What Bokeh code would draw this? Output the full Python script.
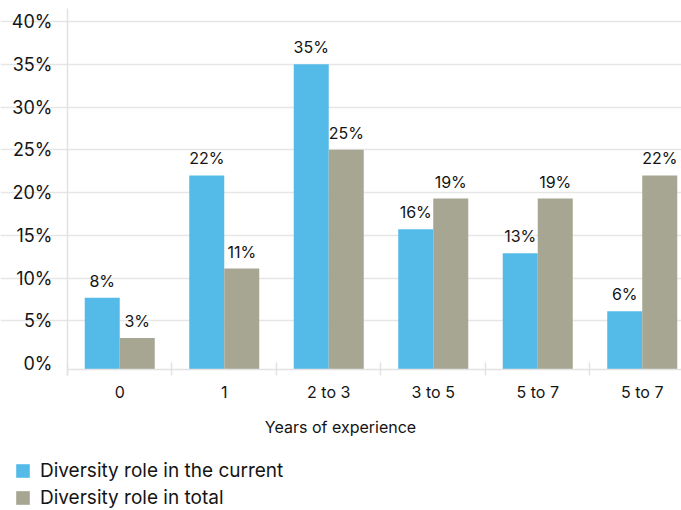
from bokeh.plotting import figure
from bokeh.models import (ColumnDataSource, FixedTicker, Range1d, Label,
                          Legend, LegendItem, CustomJSTickFormatter)
from bokeh.core.properties import value
from bokeh.embed import file_html
from bokeh.resources import INLINE

# Survey data: share of respondents by years of experience
categories = ["0", "1", "2 to 3", "3 to 5", "5 to 7", "5 to 7"]
current_role = [7.7, 22.0, 35.0, 15.7, 12.9, 6.1]
total_role = [3.0, 11.1, 25.0, 19.3, 19.3, 22.0]
series_names = ["Diversity role in the current", "Diversity role in total"]
y_ticks = [0, 5, 10, 15, 20, 25, 30, 35, 40]

BLUE = "#54BBE9"
GREY = "#A7A692"
TEXT = "#141414"
LINE = "#e2e2e2"
FONT = "Inter"
AXIS_FLOOR = -0.7   # the category axis sits a little below the 0% line
BAR_W = 0.335
X_END = 5.8756      # last category runs slightly past the right edge

n = len(categories)
centers = [i + 0.5 for i in range(n)]
x_cur = [c - BAR_W / 2 for c in centers]
x_tot = [c + BAR_W / 2 for c in centers]

src_cur = ColumnDataSource(dict(x=x_cur, top=current_role,
                                lbl=[f"{round(v)}%" for v in current_role]))
src_tot = ColumnDataSource(dict(x=x_tot, top=total_role,
                                lbl=[f"{round(v)}%" for v in total_role]))

# The frame covers the whole canvas; axes are pinned inside it so the
# legend and axis title can sit in the same drawing area.
p = figure(width=681, height=510, output_backend="svg", toolbar_location=None,
           x_range=Range1d(-0.6411, X_END), y_range=Range1d(-17.19, 42.46),
           min_border=0)
p.outline_line_color = None
p.background_fill_color = "white"
p.border_fill_color = "white"

r_cur = p.vbar(x="x", top="top", bottom=AXIS_FLOOR, width=BAR_W, source=src_cur,
               fill_color=BLUE, line_color=None)
r_tot = p.vbar(x="x", top="top", bottom=AXIS_FLOOR, width=BAR_W, source=src_tot,
               fill_color=GREY, line_color=None)

for src in (src_cur, src_tot):
    p.text(x="x", y="top", text="lbl", source=src, y_offset=-17,
           text_align="center", text_baseline="alphabetic",
           text_font=value(FONT), text_font_size="16px", text_color=TEXT)

# grid
p.xgrid.visible = False
p.ygrid.ticker = FixedTicker(ticks=[t for t in y_ticks if t > 0])
p.ygrid.bounds = (0, X_END)
p.ygrid.grid_line_color = "#e6e6e6"
p.ygrid.grid_line_width = 1.5

# y axis
ya = p.yaxis[0]
ya.fixed_location = 0
ya.bounds = (-1.4, 41.52)
ya.ticker = FixedTicker(ticks=y_ticks)
ya.formatter = CustomJSTickFormatter(code="return tick.toFixed(0) + '%';")
ya.axis_line_color = LINE
ya.axis_line_width = 1.5
ya.major_tick_line_color = None
ya.major_tick_out = 0
ya.major_tick_in = 0
ya.minor_tick_line_color = None
ya.major_label_standoff = 15
ya.major_label_text_font = FONT
ya.major_label_text_font_size = "18px"
ya.major_label_text_color = TEXT

# x axis: category names at centres, tick marks at category boundaries
xa = p.xaxis[0]
xa.fixed_location = AXIS_FLOOR
xa.bounds = (0, X_END)
xa.ticker = FixedTicker(ticks=centers, minor_ticks=list(range(n + 1)))
xa.major_label_overrides = {c: name for c, name in zip(centers, categories)}
xa.axis_line_color = LINE
xa.axis_line_width = 1.5
xa.major_tick_line_color = None
xa.major_tick_out = 0
xa.major_tick_in = 0
xa.minor_tick_line_color = LINE
xa.minor_tick_line_width = 1.5
xa.minor_tick_in = 7
xa.minor_tick_out = 6
xa.major_label_standoff = 6
xa.major_label_text_font = FONT
xa.major_label_text_font_size = "16px"
xa.major_label_text_color = TEXT

p.add_layout(Label(x=340, y=84, x_units="screen", y_units="screen",
                   text="Years of experience", text_align="center",
                   text_baseline="middle", text_font=FONT,
                   text_font_size="16px", text_color=TEXT))

legend = Legend(items=[LegendItem(label=series_names[0], renderers=[r_cur]),
                       LegendItem(label=series_names[1], renderers=[r_tot])],
                location=(14, 1), orientation="vertical",
                glyph_width=17, glyph_height=17, label_standoff=9,
                label_height=20, spacing=4, padding=0, margin=0,
                label_text_font=FONT, label_text_font_size="19px",
                label_text_color=TEXT, border_line_color=None,
                background_fill_alpha=0)
p.add_layout(legend, "center")

open("out.html", "w").write(file_html(p, INLINE))
